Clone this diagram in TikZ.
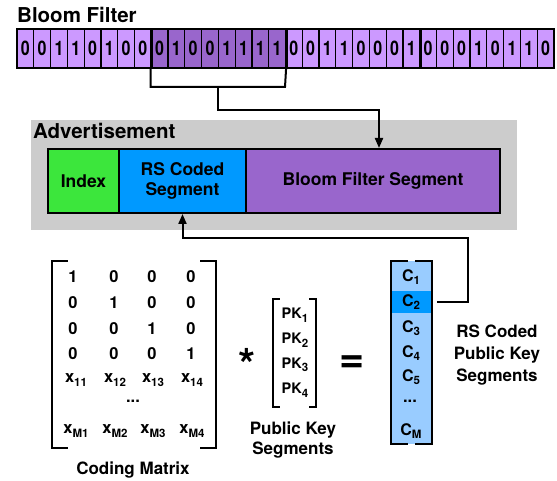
\documentclass[tikz,border=0pt]{standalone}
\usepackage{fontspec}
\usepackage{graphicx}
\setmainfont{TeX Gyre Heros}
\usetikzlibrary{arrows.meta,calc}
\definecolor{lpurp}{HTML}{CC99FF}
\definecolor{dpurp}{HTML}{9966CC}
\definecolor{adgray}{HTML}{CCCCCC}
\definecolor{igreen}{HTML}{3CE63C}
\definecolor{rsblue}{HTML}{0099FF}
\definecolor{lblue}{HTML}{99CCFF}
\newcommand{\myfs}[1]{\fontsize{#1}{#1}\selectfont}
\newcommand{\lo}[1]{\raisebox{-3.5pt}{\myfs{11.5}#1}}
\begin{document}
\begin{tikzpicture}[x=1pt,y=-1pt,font=\bfseries,
  bitcell/.style={draw,line width=1.2pt,minimum width=16.78pt,minimum height=39pt,inner sep=0pt,font=\bfseries\myfs{20}},
  seg/.style={draw,line width=2pt,inner sep=0pt,align=center,font=\bfseries\myfs{17.5}},
  conn/.style={line width=2pt},
  arr/.style={line width=2pt,-{Triangle[length=10pt,width=8pt]}},
  brk/.style={line width=2.5pt},
  ent/.style={inner sep=0pt,font=\bfseries\myfs{16.5}},
  lbl/.style={inner sep=0pt,align=center,font=\bfseries\myfs{17}}]
\useasboundingbox (0,0) rectangle (557,481);

% title
\node[anchor=base west,inner sep=0pt,font=\bfseries\myfs{20.5}] (title) at (17,23) {Bloom Filter};

% bits
\def\bits{0,0,1,1,0,1,0,0,0,1,0,0,1,1,1,1,0,0,1,1,0,0,0,1,0,0,0,1,0,1,1,0}
\foreach \v [count=\i from 0] in \bits {
  \ifnum\i<8 \def\cc{lpurp}\else\ifnum\i<16 \def\cc{dpurp}\else\def\cc{lpurp}\fi\fi
  \node[bitcell,fill=\cc] (b\i) at ({25.39+16.78*\i},48.5) {\scalebox{0.8}[1]{\v}};
}
\draw[line width=1.6pt] (b0.north west) rectangle (b31.south east);
\foreach \k in {7,15,23} \draw[line width=3pt] (b\k.north east) -- (b\k.south east);

% bracket from bits to advertisement
\coordinate (brR) at (285,87);
\coordinate (brM) at (218,87);
\coordinate (k1) at (218,110);
\coordinate (k2) at (379,110);
\draw[conn] (b8.south west) |- (brR) -- (b15.south east);

% advertisement
\node[fill=adgray,minimum width=486pt,minimum height=110pt,inner sep=0pt] (adv) at (274,175) {};
\node[anchor=base west,inner sep=0pt,font=\bfseries\myfs{20.5}] (advlbl) at (33,139) {Advertisement};
\node[seg,fill=igreen,minimum width=71pt,minimum height=64pt] (idx) at (83.5,181) {Index};
\node[seg,fill=rsblue,minimum width=127pt,minimum height=64pt] (rsseg) at (182.5,181) {RS Coded\\[3pt]Segment};
\node[seg,fill=dpurp,minimum width=254pt,minimum height=64pt] (bfseg) at (373,181) {Bloom Filter Segment};

\draw[arr] (brM) -- (k1) -- (k2) -- (k2 |- bfseg.north);

% coding matrix
\node[minimum width=164pt,minimum height=187pt,inner sep=0pt] (cm) at (134,354.5) {};
\draw[brk] ([xshift=16pt]cm.north west) -- (cm.north west) -- (cm.south west) -- ([xshift=16pt]cm.south west);
\draw[brk] ([xshift=-16pt]cm.north east) -- (cm.north east) -- (cm.south east) -- ([xshift=-16pt]cm.south east);
\foreach \r/\y/\a/\b/\c/\d in {1/277/1/0/0/0, 2/303/0/1/0/0, 3/329/0/0/1/0, 4/354/0/0/0/1} {
  \node[ent] (m\r a) at (73,\y) {\a};
  \node[ent] (m\r b) at (114,\y) {\b};
  \node[ent] (m\r c) at (152,\y) {\c};
  \node[ent] (m\r d) at (191,\y) {\d};
}
\node[ent] (m5a) at (76,380) {x\lo{11}};
\node[ent] (m5b) at (115,380) {x\lo{12}};
\node[ent] (m5c) at (153,380) {x\lo{13}};
\node[ent] (m5d) at (192,380) {x\lo{14}};
\node[ent] (mdots) at (133,401) {...};
\node[ent] (m6a) at (76,431) {x\lo{M1}};
\node[ent] (m6b) at (115,431) {x\lo{M2}};
\node[ent] (m6c) at (153,431) {x\lo{M3}};
\node[ent] (m6d) at (192,431) {x\lo{M4}};
\node[lbl] (cmlbl) at (133,470) {Coding Matrix};

% operator
\node[anchor=base,inner sep=0pt,font=\bfseries\myfs{44}] (star) at (247,380) {*};

% public key vector
\node[minimum width=43pt,minimum height=108pt,inner sep=0pt] (pk) at (294.5,353) {};
\draw[brk] ([xshift=7pt]pk.north west) -- (pk.north west) -- (pk.south west) -- ([xshift=7pt]pk.south west);
\draw[brk] ([xshift=-7pt]pk.north east) -- (pk.north east) -- (pk.south east) -- ([xshift=-7pt]pk.south east);
\foreach \i/\y in {1/315,2/340,3/365,4/390}
  \node[ent,font=\bfseries\myfs{14.5}] (pk\i) at (295,\y) {PK\lo{\i}};
\node[lbl] (pklbl) at (293,440) {Public Key\\[3pt]Segments};

\node[anchor=base,inner sep=0pt,font=\bfseries\myfs{43}] (eq) at (352,372) {=};

% coded column
\node[fill=lblue,minimum width=41pt,minimum height=183pt,inner sep=0pt] (ccol) at (411.5,352.5) {};
\node[fill=rsblue,minimum width=41pt,minimum height=22pt,inner sep=0pt] (cband) at (411.5,302) {};
\draw[brk] ([xshift=17pt]ccol.north west) -- (ccol.north west) -- (ccol.south west) -- ([xshift=17pt]ccol.south west);
\draw[brk] ([xshift=-17pt]ccol.north east) -- (ccol.north east) -- (ccol.south east) -- ([xshift=-17pt]ccol.south east);
\foreach \i/\y in {1/277,2/302,3/328,4/353,5/377}
  \node[ent,font=\bfseries\myfs{16}] (c\i) at (411,\y) {C\lo{\i}};
\node[ent] (cdots) at (410,401) {...};
\node[ent,font=\bfseries\myfs{16}] (cM) at (411,431) {C\lo{M}};
\node[lbl,font=\bfseries\myfs{17}] (cclbl) at (497,355) {RS Coded\\[5pt]Public Key\\[5pt]Segments};

% connector from C2 to RS coded segment
\coordinate (k3) at (468,238);
\draw[arr,shorten <=5pt] (cband.east) -| (k3) -| (rsseg.south);
\end{tikzpicture}
\end{document}
